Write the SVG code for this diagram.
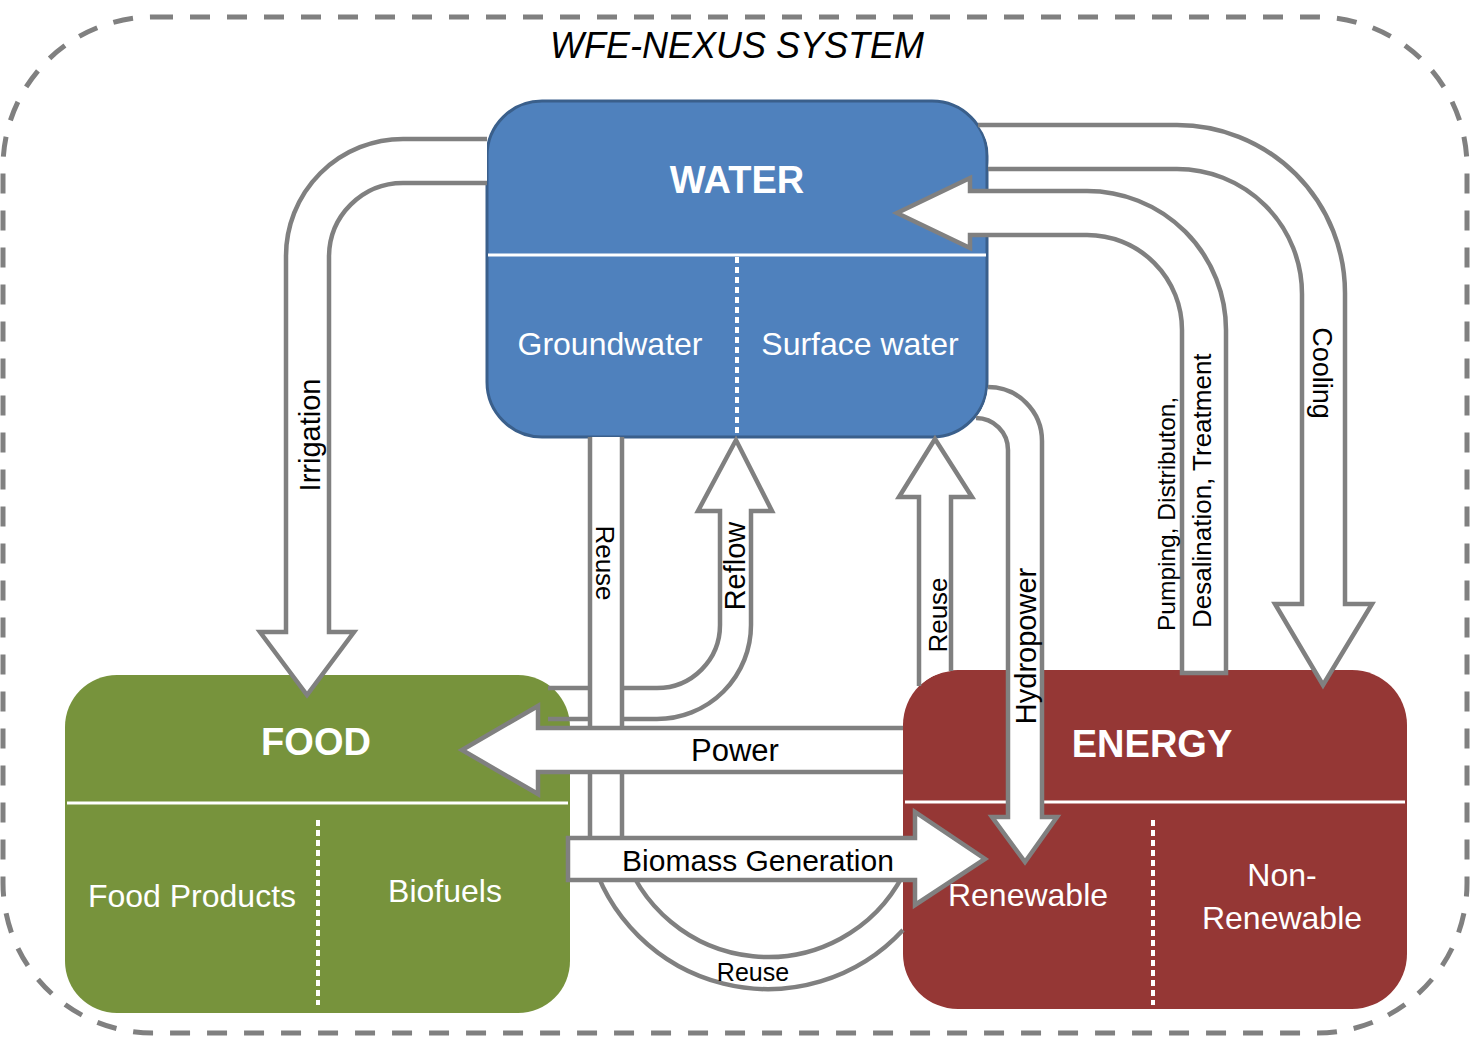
<svg xmlns="http://www.w3.org/2000/svg" width="1471" height="1039" viewBox="0 0 1471 1039">
<style>
.frame{fill:none;stroke:#808080;stroke-width:5;stroke-dasharray:20 17}
.conn path.b{fill:#fff;stroke:#808080;stroke-width:4.5;stroke-linejoin:miter}
.conn path.f{fill:#fff;stroke:none}
.conn path.e{fill:none;stroke:#808080;stroke-width:4.5}
text{font-family:"Liberation Sans",Arial,sans-serif}
.lbl{fill:#000}
.ttl{font-weight:bold;fill:#fff;font-size:38px;text-anchor:middle}
.sub{fill:#fff;font-size:32px;text-anchor:middle}
.dv{stroke:#fff;stroke-width:3}
.dt{stroke:#fff;stroke-width:4;stroke-dasharray:6 4}
</style>
<rect class="frame" x="3" y="17" width="1464" height="1016" rx="150" ry="150"/>
<text x="737" y="58" font-size="36" font-style="italic" text-anchor="middle" fill="#000">WFE-NEXUS SYSTEM</text>

<g id="water">
<rect x="487" y="101" width="500" height="336" rx="55" ry="55" fill="#4F81BD" stroke="#3A5F8B" stroke-width="3"/>
<line class="dv" x1="488" y1="255" x2="986" y2="255"/>
<line class="dt" x1="737" y1="257" x2="737" y2="436"/>
<text class="ttl" x="737" y="193">WATER</text>
<text class="sub" x="610" y="355">Groundwater</text>
<text class="sub" x="860" y="355">Surface water</text>
</g>

<g id="food">
<rect x="65" y="675" width="505" height="338" rx="52" ry="52" fill="#77933C"/>
<line class="dv" x1="67" y1="803" x2="568" y2="803"/>
<line class="dt" x1="318" y1="820" x2="318" y2="1005"/>
<text class="ttl" x="316" y="755">FOOD</text>
<text class="sub" x="192" y="907">Food Products</text>
<text class="sub" x="445" y="902">Biofuels</text>
</g>

<g id="energy">
<rect x="903" y="670" width="504" height="339" rx="55" ry="55" fill="#953735"/>
<line class="dv" x1="905" y1="802" x2="1405" y2="802"/>
<line class="dt" x1="1153" y1="820" x2="1153" y2="1005"/>
<text class="ttl" x="1152" y="757">ENERGY</text>
<text class="sub" x="1028" y="906">Renewable</text>
<text class="sub" x="1282" y="886">Non-</text>
<text class="sub" x="1282" y="929">Renewable</text>
</g>

<g id="connectors" class="conn">
<g id="irrigation">
<path class="b" d="M487 139 H403 A117 117 0 0 0 286 256 V632 H260 L307 695 L354 632 H329 V257 A74 74 0 0 1 403 183 H487"/>
<text class="lbl" font-size="29" text-anchor="middle" dy="0.35em" transform="translate(310 435) rotate(-90)">Irrigation</text>
</g>
<g id="cooling">
<path class="f" d="M978 125 H1177 A168 168 0 0 1 1345 293 V604 H1372 L1323 685 L1275 604 H1302 V294 A125 125 0 0 0 1177 169 H988 A56 56 0 0 0 978 125 Z"/>
<path class="e" d="M978 125 H1177 A168 168 0 0 1 1345 293 V604 H1372 L1323 685 L1275 604 H1302 V294 A125 125 0 0 0 1177 169 H988"/>
<text class="lbl" font-size="27" text-anchor="middle" dy="0.35em" transform="translate(1322 373) rotate(90)">Cooling</text>
</g>
<g id="pumping">
<path class="b" d="M1182 673 V330 A95 95 0 0 0 1087 235 H970 V248 L897 213 L970 178 V191 H1087 A139 139 0 0 1 1226 330 V673 Z"/>
<text class="lbl" font-size="24.5" dy="0.35em" transform="translate(1166 631) rotate(-90)">Pumping, Distributon,</text>
<text class="lbl" font-size="26" dy="0.35em" transform="translate(1202 628) rotate(-90)">Desalination, Treatment</text>
</g>
<g id="hydropower">
<path class="f" d="M988 387 A54 54 0 0 1 1042 441 V817 H1057 L1025 862 L992 817 H1008 V450 A32 32 0 0 0 976 418 A57 57 0 0 0 988 387 Z"/>
<path class="e" d="M988 387 A54 54 0 0 1 1042 441 V817 H1057 L1025 862 L992 817 H1008 V450 A32 32 0 0 0 976 418"/>
<text class="lbl" font-size="29" text-anchor="middle" dy="0.35em" transform="translate(1026 646) rotate(-90)">Hydropower</text>
</g>
<g id="reflow">
<path class="f" d="M570 688 H657 A63 63 0 0 0 720 625 V511 H698 L736 440 L772 511 H751 V625 A94 94 0 0 1 657 719 H570 Z"/>
<path class="e" d="M548 688 H657 A63 63 0 0 0 720 625 V511 H698 L736 440 L772 511 H751 V625 A94 94 0 0 1 657 719 H548"/>
<text class="lbl" font-size="29" text-anchor="middle" dy="0.35em" transform="translate(735 566) rotate(-90)">Reflow</text>
</g>
<g id="reuse-loop">
<path class="f" d="M590 437 V852 A184 184 0 0 0 903 930 L903 875 A152 152 0 0 1 622 847 V437 Z"/>
<path class="e" d="M590 437 V852 A184 184 0 0 0 903 930 M903 875 A152 152 0 0 1 622 847 V437"/>
<text class="lbl" font-size="26" text-anchor="middle" dy="0.35em" transform="translate(605 563) rotate(90)">Reuse</text>
<text class="lbl" font-size="25" text-anchor="middle" x="753" y="981">Reuse</text>
</g>
<g id="reuse-energy">
<path class="f" d="M919 686 V497 H899 L935 439 L972 497 H951 V671 A55 55 0 0 0 919 686 Z"/>
<path class="e" d="M919 686 V497 H899 L935 439 L972 497 H951 V671"/>
<text class="lbl" font-size="26" text-anchor="middle" dy="0.35em" transform="translate(938 615) rotate(-90)">Reuse</text>
</g>
<g id="power">
<path class="b" d="M903 728 H538 V706 L462 750 L538 794 V772 H903"/>
<text class="lbl" font-size="31" text-anchor="middle" x="735" y="761">Power</text>
</g>
<g id="biomass">
<path class="b" d="M568 838 H915 V812 L985 859 L915 905 V880 H568 Z"/>
<text class="lbl" font-size="30" text-anchor="middle" x="758" y="871">Biomass Generation</text>
</g>
</g>
</svg>
